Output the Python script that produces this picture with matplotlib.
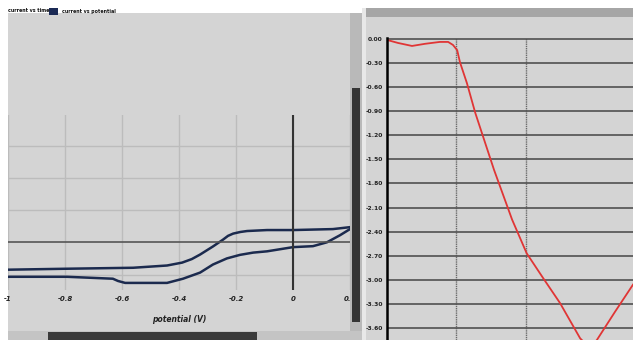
import matplotlib
matplotlib.use("Agg")
import matplotlib.pyplot as plt
from matplotlib.patches import Rectangle

# left panel: cyclic voltammogram, current vs potential
upper_v = [-1.0, -0.793, -0.561, -0.442, -0.389, -0.355, -0.326, -0.281, -0.246, -0.228, -0.21, -0.185, -0.161, -0.091, 0.0, 0.14, 0.2]
upper_i = [-0.85, -0.82, -0.79, -0.72, -0.63, -0.52, -0.38, -0.13, 0.08, 0.2, 0.27, 0.32, 0.35, 0.38, 0.38, 0.41, 0.47]
lower_v = [-1.0, -0.793, -0.632, -0.614, -0.589, -0.561, -0.442, -0.386, -0.326, -0.281, -0.232, -0.186, -0.14, -0.091, 0.0, 0.07, 0.119, 0.165, 0.2]
lower_i = [-1.07, -1.07, -1.13, -1.2, -1.26, -1.26, -1.26, -1.13, -0.94, -0.69, -0.5, -0.39, -0.32, -0.28, -0.15, -0.12, 0.0, 0.22, 0.41]
left_ticks = [-1, -0.8, -0.6, -0.4, -0.2, 0, 0.2]
left_ticklabels = ["-1", "-0.8", "-0.6", "-0.4", "-0.2", "0", "0.2"]

# right panel: signal vs time
right_t = [0.0, 0.16, 0.36, 0.55, 0.76, 0.88, 0.95, 1.01, 1.05, 1.15, 1.27, 1.54, 1.80, 2.01, 2.24, 2.49, 2.78, 2.92, 3.02, 3.28, 3.54]
right_v = [-0.012, -0.05, -0.087, -0.06, -0.037, -0.037, -0.075, -0.14, -0.29, -0.55, -0.92, -1.63, -2.25, -2.67, -2.97, -3.29, -3.73, -3.85, -3.75, -3.40, -3.06]
right_yticks = [0.0, -0.3, -0.6, -0.9, -1.2, -1.5, -1.8, -2.1, -2.4, -2.7, -3.0, -3.3, -3.6]

W, H = 633, 340
fig = plt.figure(figsize=(W / 100, H / 100), dpi=100)
fig.patch.set_facecolor("white")
panel = "#d4d4d4"


def box(x0, y0, x1, y1, color, z=-1):
    # rectangle in pixel coords measured from the top-left corner
    fig.add_artist(Rectangle((x0 / W, 1 - y1 / H), (x1 - x0) / W, (y1 - y0) / H,
                             transform=fig.transFigure, color=color, zorder=z, lw=0))


def axes_px(x0, y0, x1, y1):
    return fig.add_axes([x0 / W, 1 - y1 / H, (x1 - x0) / W, (y1 - y0) / H])


# window backgrounds
box(8, 13, 352, 331, panel)
box(366, 17, 633, 340, panel)
box(362, 8, 633, 17, "#a6a6a6")

# legend strip
fig.text(8 / W, 1 - 11 / H, "current vs time", fontsize=3.4, fontweight="bold", va="center", color="#111111")
box(49, 8, 58, 15, "#1b2a55", z=3)
fig.text(62 / W, 1 - 11 / H, "current vs potential", fontsize=3.4, fontweight="bold", va="center", color="#111111")

# left plot
ax = axes_px(8, 115, 350, 290)
ax.set_facecolor(panel)
ax.plot(upper_v, upper_i, color="#1b2a4e", lw=1.8, solid_joinstyle="round")
ax.plot(lower_v, lower_i, color="#1b2a4e", lw=1.8, solid_joinstyle="round")
ax.axhline(0, color="#555555", lw=1.2)
ax.axvline(0, color="#333333", lw=1.5)
ax.set_xlim(-1, 0.2)
ax.set_ylim(-1.48, 3.95)
ax.set_xticks(left_ticks)
ax.set_xticklabels(left_ticklabels, fontsize=5, fontweight="bold", style="italic", color="#222222")
ax.set_yticks([-1, 1, 2, 3])
ax.tick_params(length=0, labelleft=False, pad=4)
ax.grid(True, color="#bcbcbc", lw=1)
ax.set_axisbelow(True)
for s in ax.spines.values():
    s.set_visible(False)
ax.set_xlabel("potential (V)", fontsize=5.5, fontweight="bold", style="italic", labelpad=10, color="#222222")

# scrollbars of the left window
box(350, 13, 362, 331, "#b9b9b9", z=5)
box(352, 88, 360, 322, "#353535", z=6)
box(8, 331, 362, 340, "#c4c4c4", z=5)
box(48, 332, 257, 340, "#3a3a3a", z=6)
box(362, 8, 366, 340, "#e8e8e8", z=5)

# right plot
ax2 = axes_px(387, 38, 633, 340)
ax2.set_facecolor(panel)
ax2.plot(right_t, right_v, color="#e03535", lw=1.3, solid_joinstyle="round")
ax2.set_xlim(0, 3.54)
ax2.set_ylim(-3.75, 0.012)
ax2.set_yticks(right_yticks)
ax2.set_yticklabels(["%.2f" % v for v in right_yticks], fontsize=4.3, fontweight="bold", color="#222222")
ax2.set_xticks([1.0, 2.0])
ax2.tick_params(length=0, labelbottom=False, pad=3)
ax2.grid(axis="y", color="#505050", lw=1.2)
ax2.grid(axis="x", color="#6a6a6a", lw=1, ls=(0, (1, 0.6)))
ax2.set_axisbelow(True)
for s in ax2.spines.values():
    s.set_visible(False)
ax2.spines["left"].set_visible(True)
ax2.spines["left"].set_linewidth(1.8)
ax2.spines["left"].set_color("black")

fig.savefig("out.png", dpi=100)
